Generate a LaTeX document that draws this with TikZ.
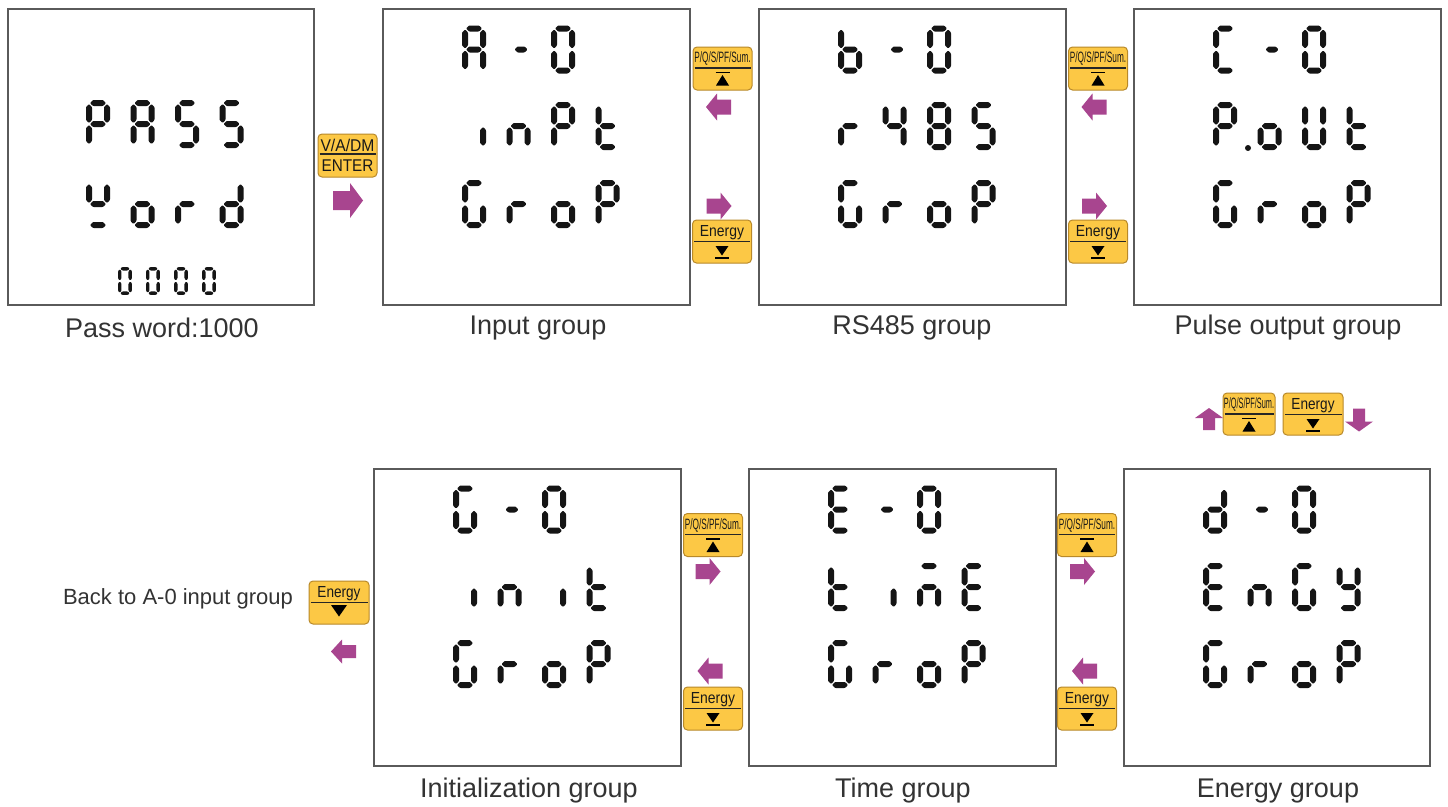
\documentclass[tikz,border=0pt]{standalone}
\usepackage{fontspec}
\setmainfont{Liberation Sans}
\usepackage{graphicx}
\usetikzlibrary{calc}
\definecolor{lcdblack}{HTML}{151515}
\definecolor{boxgray}{HTML}{5A5A5A}
\definecolor{btnfill}{HTML}{FCC845}
\definecolor{btnedge}{HTML}{B8892A}
\definecolor{arrowpurple}{HTML}{A8458F}
\definecolor{captext}{HTML}{333333}
\tikzset{
 lcdbox/.style={draw=boxgray, line width=1.5pt, fill=white, inner sep=0pt, anchor=north west},
 btn/.style={draw=btnedge, fill=btnfill, line width=1pt, rounded corners=4pt, inner sep=0pt},
 btnrule/.style={draw=black!85, line width=1.2pt},
 caption/.style={text=captext, font=\fontsize{27}{30}\selectfont, inner sep=0pt},
 lcd/.style={fill=lcdblack, rounded corners=0.8pt},
 parrow/.style={fill=arrowpurple},
 btnlbl/.style={inner sep=0pt, text=black!90},
}
% seven-segment pieces (local glyph box 24 x 48, y downwards)
\newcommand\lcdH[3]{\fill[lcd] (#1,#3) -- ({#1+3},{#3-3}) -- ({#2-3},{#3-3}) -- (#2,#3) -- ({#2-3},{#3+3}) -- ({#1+3},{#3+3}) -- cycle;}
\newcommand\lcdV[3]{\fill[lcd] (#1,#2) -- ({#1+3},{#2+3}) -- ({#1+3},{#3-3}) -- (#1,#3) -- ({#1-3},{#3-3}) -- ({#1-3},{#2+3}) -- cycle;}
\newcommand\sgA{\lcdH{4}{20}{3}}
\newcommand\sgB{\lcdV{21}{4}{23}}
\newcommand\sgC{\lcdV{21}{25}{44}}
\newcommand\sgD{\lcdH{4}{20}{45}}
\newcommand\sgE{\lcdV{3}{25}{44}}
\newcommand\sgF{\lcdV{3}{4}{23}}
\newcommand\sgG{\lcdH{4}{20}{24}}
\newcommand\chA{\sgA\sgB\sgC\sgE\sgF\sgG}
\newcommand\chP{\sgA\sgB\sgE\sgF\sgG}
\newcommand\chS{\sgA\sgC\sgD\sgF\sgG}
\newcommand\chYw{\sgB\sgD\sgF\sgG}
\newcommand\cho{\sgC\sgD\sgE\sgG}
\newcommand\chr{\sgE\sgG}
\newcommand\chd{\sgB\sgC\sgD\sgE\sgG}
\newcommand\chZero{\sgA\sgB\sgC\sgD\sgE\sgF}
\newcommand\chDash{\lcdH{8}{21}{24}}
\newcommand\chI{\sgC}
\newcommand\chn{\sgC\sgE\sgG}
\newcommand\cht{\sgD\sgE\sgF\sgG}
\newcommand\chG{\sgA\sgC\sgD\sgE\sgF}
\newcommand\chb{\sgC\sgD\sgE\sgF\sgG}
\newcommand\chFour{\sgB\sgC\sgF\sgG}
\newcommand\chEight{\sgA\sgB\sgC\sgD\sgE\sgF\sgG}
\newcommand\chC{\sgA\sgD\sgE\sgF}
\newcommand\chU{\sgB\sgC\sgD\sgE\sgF}
\newcommand\chE{\sgA\sgD\sgE\sgF\sgG}
\newcommand\chy{\sgB\sgC\sgD\sgF\sgG}
\newcommand\chm{\sgA\sgC\sgE\sgG}
\newcommand\chPdot{\chP\fill[lcdblack] (35,46) circle (3);}
\newcommand\lcdchar[3]{\begin{scope}[shift={(#1,#2)}]#3\end{scope}}
\newcommand\lcdrow[6]{\lcdchar{#1}{#2}{#3}\lcdchar{{#1+44.5}}{#2}{#4}\lcdchar{{#1+89}}{#2}{#5}\lcdchar{{#1+133.5}}{#2}{#6}}
% buttons
\newcommand\btnUp[6]{%
 \node[btn, minimum width=#4pt, minimum height=#5pt] (#1) at (#2,#3) {};
 \node[btnlbl, anchor=base] at ($(#1.north)+(0,16)$) {\scalebox{#6}[1]{\fontsize{15}{15}\selectfont P/Q/S/PF/Sum.}};
 \draw[btnrule] ($(#1.north west)+(2,21.5)$) -- ($(#1.north east)+(-2,21.5)$);
 \draw[line width=1.6pt] ($(#1.north)+(-7,26)$) -- ($(#1.north)+(7,26)$);
 \fill ($(#1.north)+(-6.5,39)$) -- ($(#1.north)+(6.5,39)$) -- ($(#1.north)+(0,28.5)$) -- cycle;}
\newcommand\btnDown[6]{%
 \node[btn, minimum width=#4pt, minimum height=#5pt] (#1) at (#2,#3) {};
 \node[btnlbl, anchor=base] at ($(#1.north)+(0,17)$) {\scalebox{#6}[1]{\fontsize{16}{16}\selectfont Energy}};
 \draw[btnrule] ($(#1.north west)+(2,22)$) -- ($(#1.north east)+(-2,22)$);
 \fill ($(#1.north)+(-6.5,26.5)$) -- ($(#1.north)+(6.5,26.5)$) -- ($(#1.north)+(0,36)$) -- cycle;
 \draw[line width=1.6pt] ($(#1.north)+(-7,38.5)$) -- ($(#1.north)+(7,38.5)$);}
% purple block arrows: name, cx, cy, angle, length, head length, shaft width, head width
\newcommand\parw[8]{%
 \begin{scope}[shift={(#2,#3)}, rotate=#4]
 \coordinate (#1) at (0,0);
 \fill[parrow] ({-#5/2},{-#7/2}) -- ({#5/2-#6},{-#7/2}) -- ({#5/2-#6},{-#8/2}) -- ({#5/2},0) -- ({#5/2-#6},{#8/2}) -- ({#5/2-#6},{#7/2}) -- ({-#5/2},{#7/2}) -- cycle;
 \end{scope}}
\begin{document}
\begin{tikzpicture}[x=1pt,y=-1pt]
\useasboundingbox (0,0) rectangle (1448,806);
\fill[white] (0,0) rectangle (1448,806);
% ---------- LCD panels ----------
\node[lcdbox, minimum width=306pt, minimum height=296pt] (p1) at (7,8) {};
\node[lcdbox, minimum width=307pt, minimum height=296pt] (p2) at (382,8) {};
\node[lcdbox, minimum width=307pt, minimum height=296pt] (p3) at (758,8) {};
\node[lcdbox, minimum width=307pt, minimum height=296pt] (p4) at (1133,8) {};
\node[lcdbox, minimum width=307pt, minimum height=297pt] (p5) at (373,468) {};
\node[lcdbox, minimum width=307pt, minimum height=297pt] (p6) at (748,468) {};
\node[lcdbox, minimum width=306pt, minimum height=297pt] (p7) at (1123,468) {};
% panel 1
\lcdrow{86}{100}{\chP}{\chA}{\chS}{\chS}
\lcdrow{86}{180}{\chYw}{\cho}{\chr}{\chd}
\foreach \xx in {118,146,174,202}{
 \begin{scope}[shift={(\xx,267)}, scale=0.583]\chZero\end{scope}}
% panel 2
\lcdrow{462}{25.5}{\chA}{\chDash}{\chZero}{}
\lcdrow{462}{102}{\chI}{\chn}{\chP}{\cht}
\lcdrow{462}{180}{\chG}{\chr}{\cho}{\chP}
% panel 3
\lcdrow{838}{25.5}{\chb}{\chDash}{\chZero}{}
\lcdrow{838}{102}{\chr}{\chFour}{\chEight}{\chS}
\lcdrow{838}{180}{\chG}{\chr}{\cho}{\chP}
% panel 4
\lcdrow{1213}{25.5}{\chC}{\chDash}{\chZero}{}
\lcdrow{1213}{102}{\chPdot}{\cho}{\chU}{\cht}
\lcdrow{1213}{180}{\chG}{\chr}{\cho}{\chP}
% panel 5
\lcdrow{453}{485.5}{\chG}{\chDash}{\chZero}{}
\lcdrow{453}{563}{\chI}{\chn}{\chI}{\cht}
\lcdrow{453}{640}{\chG}{\chr}{\cho}{\chP}
% panel 6
\lcdrow{828}{485.5}{\chE}{\chDash}{\chZero}{}
\lcdrow{828}{563}{\cht}{\chI}{\chm}{\chE}
\lcdrow{828}{640}{\chG}{\chr}{\cho}{\chP}
% panel 7
\lcdrow{1203}{485.5}{\chd}{\chDash}{\chZero}{}
\lcdrow{1203}{563}{\chE}{\chn}{\chG}{\chy}
\lcdrow{1203}{640}{\chG}{\chr}{\cho}{\chP}
% ---------- captions ----------
\node[caption] (c1) at (162,328) {Pass word:1000};
\node[caption] (c2) at (538,328) {Input group};
\node[caption] (c3) at (912,328) {RS485 group};
\node[caption] (c4) at (1288,328) {Pulse output group};
\node[caption] (c5) at (529,791) {Initialization group};
\node[caption] (c6) at (903,791) {Time group};
\node[caption] (c7) at (1278,791) {Energy group};
\node[text=captext, inner sep=0pt, font=\fontsize{22}{25}\selectfont] (back) at (178,599) {Back to A-0 input group};
% ---------- buttons ----------
\node[btn, minimum width=59pt, minimum height=43pt] (bEnter) at (347.5,155.5) {};
\node[btnlbl, anchor=base] at ($(bEnter.north)+(0,18)$) {\scalebox{0.92}[1]{\fontsize{17}{17}\selectfont V/A/DM}};
\draw[btnrule] ($(bEnter.north west)+(2,20.5)$) -- ($(bEnter.north east)+(-2,20.5)$);
\node[btnlbl, anchor=base] at ($(bEnter.north)+(0,38)$) {\scalebox{0.9}[1]{\fontsize{17}{17}\selectfont ENTER}};
\btnUp{bU1}{722.5}{68.5}{59}{43}{0.55}
\btnDown{bD1}{722}{241.5}{59}{43}{0.87}
\btnUp{bU2}{1098}{68.5}{59}{43}{0.55}
\btnDown{bD2}{1098}{241.5}{59}{43}{0.87}
\btnUp{bU3}{713}{535}{59}{43}{0.55}
\btnDown{bD3}{713}{708.5}{59}{43}{0.87}
\btnUp{bU4}{1087}{535}{59}{43}{0.55}
\btnDown{bD4}{1087}{708.5}{59}{43}{0.87}
\btnUp{bU5}{1249}{414}{52}{42}{0.49}
\btnDown{bD5}{1313}{414}{60}{42}{0.85}
\node[btn, minimum width=60pt, minimum height=43pt] (bBack) at (339,602.5) {};
\node[btnlbl, anchor=base] at ($(bBack.north)+(0,17)$) {\scalebox{0.85}[1]{\fontsize{16}{16}\selectfont Energy}};
\draw[btnrule] ($(bBack.north west)+(2,22)$) -- ($(bBack.north east)+(-2,22)$);
\fill ($(bBack.north)+(-8,24.5)$) -- ($(bBack.north)+(8,24.5)$) -- ($(bBack.north)+(0,36)$) -- cycle;
% ---------- arrows ----------
\parw{aEnter}{348}{200.5}{0}{30}{13}{19}{35}
\parw{aL1}{718.5}{107}{180}{25}{11}{15}{27}
\parw{aR1}{719}{206}{0}{25}{11}{15}{27}
\parw{aL2}{1094}{107}{180}{25}{11}{15}{27}
\parw{aR2}{1094.5}{206}{0}{25}{11}{15}{27}
\parw{aR3}{708}{571.5}{0}{25}{11}{15}{27}
\parw{aL3}{710}{671}{180}{25}{11}{15}{27}
\parw{aR4}{1082.5}{571.5}{0}{25}{11}{15}{27}
\parw{aL4}{1084.5}{671}{180}{25}{11}{15}{27}
\parw{aUp}{1209}{419}{90}{22}{10}{12}{28}
\parw{aDn}{1359}{420}{-90}{23}{10}{12}{28}
\parw{aBack}{343.5}{651.5}{180}{25}{11}{13}{24}
\end{tikzpicture}
\end{document}
